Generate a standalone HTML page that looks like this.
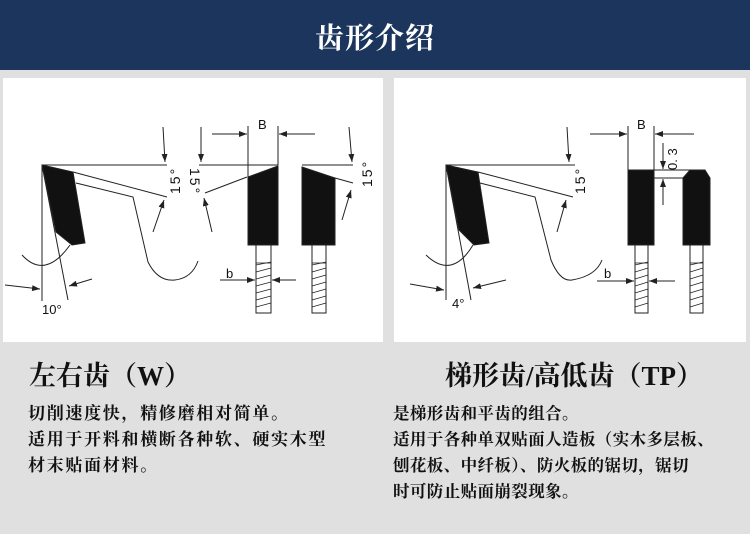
<!DOCTYPE html>
<html><head><meta charset="utf-8"><style>
*{margin:0;padding:0}
body{width:750px;height:534px;background:#e0e0e0;position:relative;overflow:hidden;font-family:"Liberation Serif","Noto Serif CJK SC",serif}
.hdr{position:absolute;left:0;top:0;width:750px;height:70px;background:#1b355d;color:#fff;font-size:29px;font-weight:bold;text-align:center;line-height:78px;letter-spacing:1px}
.t{position:absolute;white-space:nowrap;color:#111;font-weight:bold}
</style></head><body>
<div class="hdr">齿形介绍</div>
<svg style="position:absolute;left:0;top:0" width="750" height="534" xmlns="http://www.w3.org/2000/svg">
<defs><marker id="a" markerWidth="8" markerHeight="6" refX="8" refY="3" orient="auto" markerUnits="userSpaceOnUse"><path d="M0,0L8,3L0,6z" fill="#222"/></marker></defs>
<rect x="3" y="78" width="380" height="264" fill="#fff"/>
<rect x="394" y="78" width="352" height="264" fill="#fff"/>
<g stroke="#222" stroke-width="1" fill="none">
<path d="M42,165L73,172L85,243L72,245L56,232Z" fill="#111"/>
<line x1="42" y1="165" x2="167" y2="165"/>
<line x1="42" y1="165" x2="42" y2="301"/>
<line x1="42" y1="165" x2="68" y2="300"/>
<line x1="73" y1="172" x2="167" y2="197"/>
<path d="M76,183L133,197L148,262Q158,282 175,280Q192,278 198,261"/>
<path d="M22,255Q45,280 70,245"/>
<line x1="5" y1="285" x2="40" y2="289" marker-end="url(#a)"/>
<line x1="92" y1="279" x2="69" y2="286" marker-end="url(#a)"/>
<line x1="163" y1="127" x2="165" y2="162" marker-end="url(#a)"/>
<line x1="153" y1="232" x2="164" y2="200" marker-end="url(#a)"/>
<line x1="248" y1="126" x2="248" y2="177"/><line x1="278" y1="126" x2="278" y2="165"/>
<line x1="212" y1="134" x2="247" y2="134" marker-end="url(#a)"/>
<line x1="315" y1="134" x2="279" y2="134" marker-end="url(#a)"/>
<path d="M248,177L278,166L278,245L248,245Z" fill="#111"/>
<line x1="199" y1="165" x2="278" y2="165"/>
<line x1="205" y1="193" x2="247" y2="177"/>
<line x1="201" y1="127" x2="201" y2="162" marker-end="url(#a)"/>
<line x1="212" y1="232" x2="204" y2="198" marker-end="url(#a)"/>
<rect x="256" y="245" width="15" height="68"/>
<line x1="220" y1="280" x2="255" y2="280" marker-end="url(#a)"/>
<line x1="296" y1="280" x2="272" y2="280" marker-end="url(#a)"/>
<path d="M302,167L335,178L335,245L302,245Z" fill="#111"/>
<line x1="302" y1="165" x2="353" y2="165"/>
<line x1="335" y1="178" x2="353" y2="183"/>
<line x1="349" y1="127" x2="352" y2="162" marker-end="url(#a)"/>
<line x1="342" y1="220" x2="351" y2="190" marker-end="url(#a)"/>
<rect x="312" y="245" width="14" height="68"/>
<path d="M446,165L478,172L489,243L474,245L459,230Z" fill="#111"/>
<line x1="446" y1="165" x2="575" y2="165"/>
<line x1="446" y1="165" x2="446" y2="300"/>
<line x1="446" y1="165" x2="471" y2="300"/>
<line x1="478" y1="172" x2="573" y2="197"/>
<path d="M480,183L535,197L551,260Q560,282 572,280Q596,276 602,260"/>
<path d="M426,255Q452,280 473,245"/>
<line x1="410" y1="284" x2="444" y2="290" marker-end="url(#a)"/>
<line x1="506" y1="280" x2="473" y2="288" marker-end="url(#a)"/>
<line x1="567" y1="127" x2="569" y2="162" marker-end="url(#a)"/>
<line x1="557" y1="232" x2="566" y2="200" marker-end="url(#a)"/>
<line x1="628" y1="126" x2="628" y2="170"/><line x1="654" y1="126" x2="654" y2="170"/>
<line x1="590" y1="134" x2="627" y2="134" marker-end="url(#a)"/>
<line x1="694" y1="134" x2="655" y2="134" marker-end="url(#a)"/>
<rect x="628" y="170" width="26" height="75" fill="#111"/>
<path d="M683,178L690,170L705,170L710,178L710,245L683,245Z" fill="#111"/>
<line x1="654" y1="170" x2="690" y2="170"/>
<line x1="654" y1="178" x2="683" y2="178"/>
<line x1="663" y1="143" x2="663" y2="169" marker-end="url(#a)"/>
<line x1="663" y1="205" x2="663" y2="179" marker-end="url(#a)"/>
<rect x="635" y="245" width="13" height="68"/>
<rect x="690" y="245" width="13" height="68"/>
<line x1="597" y1="281" x2="634" y2="281" marker-end="url(#a)"/>
<line x1="675" y1="281" x2="649" y2="281" marker-end="url(#a)"/>
<g stroke-width="0.8">
<path d="M256,265L271,262M256,272L271,268M256,279L271,275M256,286L271,282M256,293L271,289M256,300L271,296M256,307L271,303"/>
<path d="M312,265L326,262M312,272L326,268M312,279L326,275M312,286L326,282M312,293L326,289M312,300L326,296M312,307L326,303"/>
<path d="M635,265L648,262M635,272L648,268M635,279L648,275M635,286L648,282M635,293L648,289M635,300L648,296M635,307L648,303"/>
<path d="M690,265L703,262M690,272L703,268M690,279L703,275M690,286L703,282M690,293L703,289M690,300L703,296M690,307L703,303"/>
<line x1="256" y1="263" x2="271" y2="263"/><line x1="312" y1="263" x2="326" y2="263"/>
<line x1="635" y1="263" x2="648" y2="263"/><line x1="690" y1="263" x2="703" y2="263"/>
</g>
</g>
<g font-family="Liberation Sans, sans-serif" font-size="13" fill="#111">
<text x="42" y="314">10°</text>
<text x="452" y="308">4°</text>
<text x="258" y="129">B</text><text x="637" y="129">B</text>
<text x="226" y="278">b</text><text x="604" y="278">b</text>
<g font-size="14" letter-spacing="2">
<text transform="translate(180,194) rotate(-90)">15°</text>
<text transform="translate(190,168) rotate(90)">15°</text>
<text transform="translate(372,187) rotate(-90)">15°</text>
<text transform="translate(585,194) rotate(-90)">15°</text>
</g>
<text transform="translate(677,170) rotate(-90)">0. 3</text>
</g>
</svg>
<div class="t" style="left:29px;top:354px;font-size:27px">左右齿（W）</div>
<div class="t" style="left:445px;top:354px;font-size:27px">梯形齿/高低齿（TP）</div>
<div class="t" style="left:28px;top:401px;font-size:17px;line-height:26px;letter-spacing:1.7px">切削速度快，精修磨相对简单。<br>适用于开料和横断各种软、硬实木型<br>材末贴面材料。</div>
<div class="t" style="left:393px;top:401px;font-size:16.5px;line-height:26px;letter-spacing:0.4px">是梯形齿和平齿的组合。<br>适用于各种单双贴面人造板（实木多层板、<br>刨花板、中纤板）、防火板的锯切，锯切<br>时可防止贴面崩裂现象。</div>
</body></html>
